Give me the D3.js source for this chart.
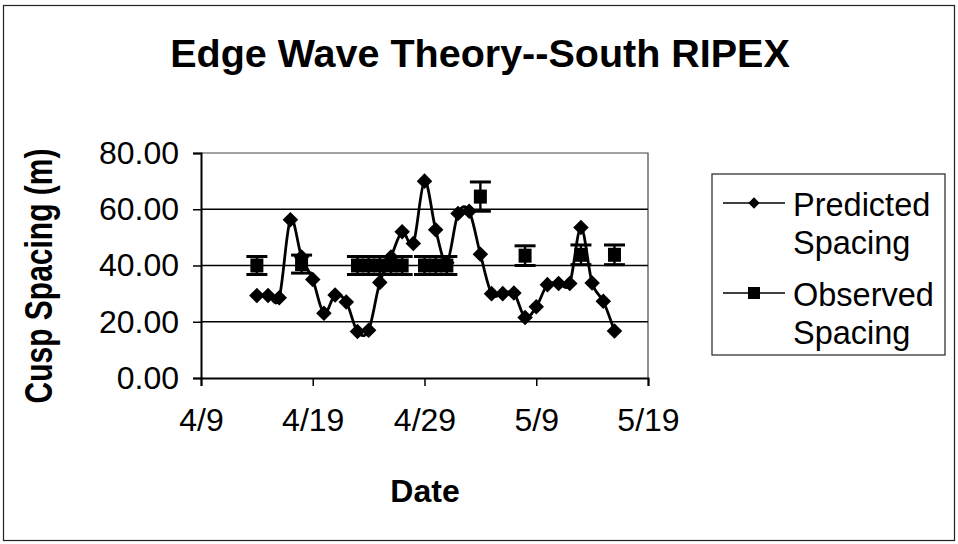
<!DOCTYPE html>
<html>
<head>
<meta charset="utf-8">
<script src="https://cdn.jsdelivr.net/npm/d3@7"></script>
<style>
  html, body { margin: 0; padding: 0; background: #fff; }
  svg { display: block; }
  text { font-family: "Liberation Sans", Arial, sans-serif; fill: #000; }
</style>
</head>
<body>
<svg id="chart" width="958" height="544"></svg>
<script>
// Predicted cusp spacing (edge wave theory), one value per day
const predDates = ["4/14","4/15","4/16","4/17","4/18","4/19","4/20","4/21","4/22","4/23","4/24",
  "4/25","4/26","4/27","4/28","4/29","4/30","5/1","5/2","5/3","5/4","5/5","5/6","5/7","5/8",
  "5/9","5/10","5/11","5/12","5/13","5/14","5/15","5/16"];
const predValues = [29.3, 29.3, 28.5, 56.3, 43.0, 35.0, 23.0, 29.5, 27.0, 16.5, 17.0,
  34.0, 43.0, 52.0, 47.8, 70.0, 52.7, 41.0, 58.5, 59.3, 44.0, 30.0, 30.0, 30.2, 21.5,
  25.3, 33.2, 33.6, 33.6, 53.5, 33.8, 27.3, 16.7];

// Observed cusp spacing with measurement uncertainty
const obsDates = ["4/14","4/18","4/23","4/24","4/25","4/26","4/27","4/29","4/30","5/1","5/4","5/8","5/13","5/16"];
const obsValues = [40.0, 40.5, 40.0, 40.0, 40.0, 40.0, 40.0, 40.0, 40.0, 40.0, 64.5, 43.5, 43.8, 43.8];
const obsErrors = [3.2, 3.2, 3.2, 3.2, 3.2, 3.2, 3.2, 3.2, 3.2, 3.2, 5.2, 3.5, 3.5, 3.5];

// Axis ticks
const xTickLabels = ["4/9", "4/19", "4/29", "5/9", "5/19"];
const yTickValues = [0, 20, 40, 60, 80];

const year = 1996;
const parseDay = s => { const [m, d] = s.split("/").map(Number); return new Date(year, m - 1, d); };

const svg = d3.select("#chart");
const plot = { left: 201, right: 648, top: 153, bottom: 378 };

const x = d3.scaleTime()
  .domain([parseDay(xTickLabels[0]), parseDay(xTickLabels[xTickLabels.length - 1])])
  .range([plot.left, plot.right]);
const y = d3.scaleLinear().domain([0, 80]).range([plot.bottom, plot.top]);

// Outer chart frame
svg.append("rect")
  .attr("x", 3.5).attr("y", 5.5).attr("width", 951).attr("height", 535)
  .attr("fill", "none").attr("stroke", "#222").attr("stroke-width", 1.2);

// Title
svg.append("text")
  .attr("x", 480).attr("y", 67)
  .attr("text-anchor", "middle")
  .attr("font-size", 39.5).attr("font-weight", "bold")
  .text("Edge Wave Theory--South RIPEX");

// Plot area frame (top and right edges)
svg.append("path")
  .attr("d", `M${plot.left},${plot.top}H${plot.right}V${plot.bottom}`)
  .attr("fill", "none").attr("stroke", "#444").attr("stroke-width", 1.2);

// Horizontal gridlines
svg.append("g")
  .selectAll("line")
  .data(yTickValues.filter(v => v > 0 && v < 80))
  .join("line")
  .attr("x1", plot.left).attr("x2", plot.right)
  .attr("y1", d => y(d)).attr("y2", d => y(d))
  .attr("stroke", "#000").attr("stroke-width", 1.3);

// Y axis
const yAxis = svg.append("g")
  .attr("transform", `translate(${plot.left},0)`)
  .call(d3.axisLeft(y).tickValues(yTickValues).tickFormat(d3.format(".2f")).tickSize(8).tickPadding(14));
yAxis.select(".domain").attr("stroke", "#000").attr("stroke-width", 2);
yAxis.selectAll(".tick line").attr("stroke", "#000").attr("stroke-width", 1.5);
yAxis.selectAll(".tick text")
  .attr("font-family", "Liberation Sans, Arial, sans-serif")
  .attr("font-size", 32).attr("fill", "#000");

// X axis
const xAxis = svg.append("g")
  .attr("transform", `translate(0,${plot.bottom})`)
  .call(d3.axisBottom(x).tickValues(xTickLabels.map(parseDay)).tickFormat(d3.timeFormat("%-m/%-d")).tickSize(8).tickPadding(22));
xAxis.select(".domain").attr("stroke", "#000").attr("stroke-width", 2);
xAxis.selectAll(".tick line").attr("stroke", "#000").attr("stroke-width", 1.5);
xAxis.selectAll(".tick text")
  .attr("font-family", "Liberation Sans, Arial, sans-serif")
  .attr("font-size", 32).attr("fill", "#000");

// Axis titles (the vertical one is drawn with wider glyphs)
svg.append("text")
  .attr("transform", "translate(52,276) rotate(-90) scale(1,1.3)")
  .attr("text-anchor", "middle")
  .attr("font-size", 30).attr("font-weight", "bold")
  .text("Cusp Spacing (m)");
svg.append("text")
  .attr("x", 425).attr("y", 502)
  .attr("text-anchor", "middle")
  .attr("font-size", 32).attr("font-weight", "bold")
  .text("Date");

// Predicted spacing: smoothed line with diamond markers
const pred = predDates.map((d, i) => ({ date: parseDay(d), value: predValues[i] }));
svg.append("path")
  .datum(pred)
  .attr("fill", "none").attr("stroke", "#000").attr("stroke-width", 2.8)
  .attr("d", d3.line().x(d => x(d.date)).y(d => y(d.value)).curve(d3.curveCatmullRom.alpha(0)));

svg.append("g")
  .selectAll("path")
  .data(pred)
  .join("path")
  .attr("transform", d => `translate(${x(d.date)},${y(d.value)}) rotate(45)`)
  .attr("d", d3.symbol().type(d3.symbolSquare).size(121))
  .attr("fill", "#000");

// Observed spacing: squares with error bars
const obs = obsDates.map((d, i) => ({ date: parseDay(d), value: obsValues[i], err: obsErrors[i] }));
const obsG = svg.append("g");
const bars = obsG.selectAll("g").data(obs).join("g");
bars.append("line")
  .attr("x1", d => x(d.date)).attr("x2", d => x(d.date))
  .attr("y1", d => y(d.value - d.err)).attr("y2", d => y(d.value + d.err))
  .attr("stroke", "#000").attr("stroke-width", 2.4);
bars.selectAll("line.cap")
  .data(d => [d.value - d.err, d.value + d.err].map(v => ({ date: d.date, v })))
  .join("line").attr("class", "cap")
  .attr("x1", d => x(d.date) - 10.5).attr("x2", d => x(d.date) + 10.5)
  .attr("y1", d => y(d.v)).attr("y2", d => y(d.v))
  .attr("stroke", "#000").attr("stroke-width", 3);
bars.append("rect")
  .attr("x", d => x(d.date) - 6.5).attr("y", d => y(d.value) - 7)
  .attr("width", 13).attr("height", 14)
  .attr("fill", "#000");

// Legend
const legend = svg.append("g");
legend.append("rect")
  .attr("x", 712).attr("y", 174).attr("width", 233).attr("height", 181)
  .attr("fill", "#fff").attr("stroke", "#222").attr("stroke-width", 1.2);

const items = [
  { lines: ["Predicted", "Spacing"], symbol: "diamond", y: 203 },
  { lines: ["Observed", "Spacing"], symbol: "square", y: 293 }
];
items.forEach(it => {
  legend.append("line")
    .attr("x1", 723).attr("x2", 785).attr("y1", it.y).attr("y2", it.y)
    .attr("stroke", "#000").attr("stroke-width", 1.6);
  if (it.symbol === "diamond") {
    legend.append("path")
      .attr("transform", `translate(754,${it.y}) rotate(45)`)
      .attr("d", d3.symbol().type(d3.symbolSquare).size(64))
      .attr("fill", "#000");
  } else {
    legend.append("rect")
      .attr("x", 748).attr("y", it.y - 6).attr("width", 12).attr("height", 12)
      .attr("fill", "#000");
  }
  legend.append("text")
    .attr("x", 793).attr("y", it.y + 13)
    .attr("font-size", 32.5)
    .selectAll("tspan")
    .data(it.lines)
    .join("tspan")
    .attr("x", 793)
    .attr("dy", (d, i) => i === 0 ? 0 : 38)
    .text(d => d);
});
</script>
</body>
</html>
